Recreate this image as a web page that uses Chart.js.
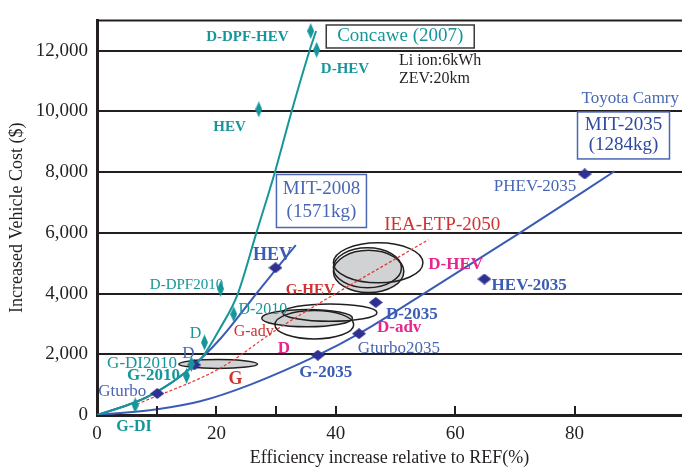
<!DOCTYPE html>
<html>
<head>
<meta charset="utf-8">
<script src="https://cdn.jsdelivr.net/npm/chart.js@4.4.1/dist/chart.umd.min.js"></script>
<style>
  html, body { margin: 0; padding: 0; background: #fff; }
</style>
</head>
<body>
<canvas id="chart" width="682" height="467"></canvas>
<script>
// Curves (efficiency %, cost $)
const concaweX = [0, 6.4, 10.1, 15.1, 17.8, 20.6, 23.5, 26.7, 29.8, 32.6, 35.6, 36.7];
const concaweY = [0, 420, 770, 1450, 1950, 2850, 3950, 6000, 8000, 10000, 12000, 12650];
const mit2008X = [0, 6.4, 10.1, 15.1, 20.7, 27.1, 33.3];
const mit2008Y = [0, 420, 770, 1450, 2520, 4100, 5600];
const mit2035X = [0, 10.1, 17.3, 25.7, 37.0, 43.9, 54.3, 71.1, 86.7];
const mit2035Y = [0, 190, 450, 1000, 1970, 2680, 3940, 6030, 8030];
const ieaX = [6.7, 20.7, 30.3, 55.5];
const ieaY = [355, 1550, 2840, 5775];

// Marked vehicles
const concawePtX = [35.8, 36.8, 27.1, 20.7, 22.9, 18.0, 15.8, 15.0, 6.4];
const concawePtY = [12650, 12030, 10070, 4160, 3320, 2390, 1680, 1290, 320];
const mitPtX = [10.1, 16.3, 29.9, 37.0, 43.9, 46.7, 64.9, 81.7];
const mitPtY = [710, 1650, 4850, 1970, 2680, 3710, 4480, 7940];

// IEA ranges: [centre x, centre y, half width (%), half height ($)]
const ieaShaded = [[20.3, 1680, 6.6, 145], [35.2, 3190, 7.6, 284], [45.5, 4730, 5.9, 694]];
const ieaOutline = [[39.0, 3370, 7.9, 284], [36.4, 2975, 6.6, 468], [47.1, 5015, 7.5, 661], [45.3, 4850, 5.7, 660]];

const xTicks = [0, 10, 20, 30, 40, 60, 80];
const yTicks = [0, 2000, 4000, 6000, 8000, 10000, 12000];

const FONT = '"Liberation Serif", "Times New Roman", serif';
const teal = '#16969a';
const blue = '#3b5cb6';
const blueText = '#4a67b3';
const navy = '#2e3192';
const red = '#d3312f';
const pink = '#e6268d';
const ink = '#231f20';

// text annotations, anchored in data units
const notes = [
    { t: 'D-DPF-HEV', x: 32.1, y: 12450, a: 'right', c: teal, f: 'bold 15px' },
    { t: 'D-HEV', x: 37.5, y: 11390, a: 'left', c: teal, f: 'bold 15px' },
    { t: 'HEV', x: 22.2, y: 9480, a: 'center', c: teal, f: 'bold 15px' },
    { t: 'D-DPF2010', x: 15.0, y: 4290, a: 'center', c: teal, f: '15px' },
    { t: 'D-2010', x: 23.7, y: 3480, a: 'left', c: teal, f: '16px' },
    { t: 'D', x: 16.5, y: 2680, a: 'center', c: teal, f: '16px' },
    { t: 'G-DI2010', x: 13.4, y: 1710, a: 'right', c: teal, f: '17px' },
    { t: 'G-2010', x: 13.9, y: 1290, a: 'right', c: teal, f: 'bold 17px' },
    { t: 'G-DI', x: 6.2, y: -390, a: 'center', c: teal, f: 'bold 16px' },
    { t: 'D', x: 15.3, y: 2030, a: 'center', c: blueText, f: '17px' },
    { t: 'Gturbo', x: 0.2, y: 770, a: 'left', c: blueText, f: '17px' },
    { t: 'HEV', x: 29.4, y: 5260, a: 'center', c: blue, f: 'bold 18px' },
    { t: 'HEV-2035', x: 66.1, y: 4260, a: 'left', c: blue, f: 'bold 17px' },
    { t: 'D-2035', x: 48.4, y: 3320, a: 'left', c: blue, f: 'bold 17px' },
    { t: 'Gturbo2035', x: 43.7, y: 2190, a: 'left', c: blueText, f: '17px' },
    { t: 'G-2035', x: 33.9, y: 1390, a: 'left', c: blue, f: 'bold 17px' },
    { t: 'PHEV-2035', x: 80.3, y: 7520, a: 'right', c: blueText, f: '17px' },
    { t: 'Toyota Camry', x: 97.5, y: 10420, a: 'right', c: blueText, f: '17px' },
    { t: 'IEA-ETP-2050', x: 48.1, y: 6260, a: 'left', c: red, f: '19px' },
    { t: 'G-HEV', x: 31.6, y: 4130, a: 'left', c: red, f: 'bold 15px' },
    { t: 'G-adv', x: 22.9, y: 2740, a: 'left', c: red, f: '16px' },
    { t: 'G', x: 23.2, y: 1160, a: 'center', c: red, f: 'bold 18px' },
    { t: 'D-HEV', x: 55.5, y: 4940, a: 'left', c: pink, f: 'bold 17px' },
    { t: 'D-adv', x: 46.9, y: 2870, a: 'left', c: pink, f: 'bold 17px' },
    { t: 'D', x: 31.3, y: 2190, a: 'center', c: pink, f: 'bold 17px' },
    { t: 'Li ion:6kWh', x: 50.6, y: 11680, a: 'left', c: ink, f: '16px' },
    { t: 'ZEV:20km', x: 50.6, y: 11065, a: 'left', c: ink, f: '16px' }
];

// boxed titles: centre in data units, box size in px
const boxes = [
    { lines: ['Concawe (2007)'], x: 50.8, y: 12470, w: 148, h: 23, gap: 0, c: teal, b: '#3a3a3a', f: '19px' },
    { lines: ['MIT-2008', '(1571kg)'], x: 37.6, y: 7050, w: 90, h: 53, gap: 23, c: blueText, b: blueText, f: '19px' },
    { lines: ['MIT-2035', '(1284kg)'], x: 88.2, y: 9210, w: 92, h: 47, gap: 20, c: '#2f4a9e', b: blueText, f: '19px' }
];

const toPts = (xs, ys) => xs.map((v, i) => ({ x: v, y: ys[i] }));

function diamond(w, h, color) {
    const cv = document.createElement('canvas');
    cv.width = w; cv.height = h;
    const c = cv.getContext('2d');
    c.fillStyle = color;
    c.beginPath();
    c.moveTo(w / 2, 0); c.lineTo(w, h / 2); c.lineTo(w / 2, h); c.lineTo(0, h / 2);
    c.closePath();
    c.fill();
    return cv;
}
const tealMark = diamond(7, 16, teal);
const navyMark = diamond(14, 11, navy);

function ellipsePath(ctx, x, y, e) {
    const cx = x.getPixelForValue(e[0]);
    const cy = y.getPixelForValue(e[1]);
    const rx = x.getPixelForValue(e[0] + e[2]) - cx;
    const ry = y.getPixelForValue(e[1] - e[3]) - cy;
    ctx.beginPath();
    ctx.ellipse(cx, cy, rx, ry, 0, 0, Math.PI * 2);
}

const overlay = {
    id: 'overlay',
    beforeDatasetsDraw(chart) {
        const { ctx, scales: { x, y } } = chart;
        ctx.save();
        ctx.lineWidth = 1.5;
        ctx.strokeStyle = ink;
        ieaShaded.forEach(e => {
            ellipsePath(ctx, x, y, e);
            ctx.fillStyle = '#d1d2d4';
            ctx.fill();
            ctx.stroke();
        });
        ieaOutline.forEach(e => {
            ellipsePath(ctx, x, y, e);
            ctx.stroke();
        });
        ctx.restore();
    },
    afterDraw(chart) {
        const { ctx, chartArea: area, scales: { x, y } } = chart;
        ctx.save();
        // top frame line
        ctx.strokeStyle = ink;
        ctx.lineWidth = 2;
        ctx.beginPath();
        ctx.moveTo(area.left, area.top);
        ctx.lineTo(area.right, area.top);
        ctx.stroke();
        // inward tick marks
        xTicks.slice(1).forEach(v => {
            const px = Math.round(x.getPixelForValue(v));
            ctx.beginPath();
            ctx.moveTo(px, area.bottom);
            ctx.lineTo(px, area.bottom - 9);
            ctx.stroke();
        });
        ctx.textBaseline = 'middle';
        notes.forEach(n => {
            ctx.font = n.f + ' ' + FONT;
            ctx.fillStyle = n.c;
            ctx.textAlign = n.a;
            ctx.fillText(n.t, x.getPixelForValue(n.x), y.getPixelForValue(n.y));
        });
        boxes.forEach(b => {
            const cx = x.getPixelForValue(b.x);
            const cy = y.getPixelForValue(b.y);
            ctx.fillStyle = '#fff';
            ctx.fillRect(cx - b.w / 2, cy - b.h / 2, b.w, b.h);
            ctx.lineWidth = 1.5;
            ctx.strokeStyle = b.b;
            ctx.strokeRect(cx - b.w / 2, cy - b.h / 2, b.w, b.h);
            ctx.font = b.f + ' ' + FONT;
            ctx.fillStyle = b.c;
            ctx.textAlign = 'center';
            const top = cy - (b.lines.length - 1) * b.gap / 2;
            b.lines.forEach((l, i) => ctx.fillText(l, cx, top + i * b.gap));
        });
        ctx.restore();
    }
};

new Chart(document.getElementById('chart'), {
    type: 'scatter',
    data: {
        datasets: [
            { data: toPts(concawePtX, concawePtY), pointStyle: tealMark, pointRadius: 8, order: 0 },
            { data: toPts(mitPtX, mitPtY), pointStyle: navyMark, pointRadius: 7, order: 1 },
            { data: toPts(concaweX, concaweY), showLine: true, borderColor: teal, borderWidth: 2, pointRadius: 0, cubicInterpolationMode: 'monotone', order: 2 },
            { data: toPts(mit2008X, mit2008Y), showLine: true, borderColor: blue, borderWidth: 2, pointRadius: 0, cubicInterpolationMode: 'monotone', order: 3 },
            { data: toPts(mit2035X, mit2035Y), showLine: true, borderColor: blue, borderWidth: 2, pointRadius: 0, cubicInterpolationMode: 'monotone', order: 4 },
            { data: toPts(ieaX, ieaY), showLine: true, borderColor: '#e03b36', borderWidth: 1.2, borderDash: [3, 2], pointRadius: 0, cubicInterpolationMode: 'monotone', order: 5 }
        ]
    },
    options: {
        responsive: false,
        animation: false,
        layout: { autoPadding: false, padding: { top: 11, right: 0, bottom: 0, left: 0 } },
        plugins: { legend: { display: false }, tooltip: { enabled: false } },
        scales: {
            x: {
                type: 'linear', min: 0, max: 98,
                afterFit: s => { s.height = 52; },
                afterBuildTicks: s => { s.ticks = xTicks.map(v => ({ value: v })); },
                grid: { display: false, drawTicks: false },
                border: { display: true, color: ink, width: 3 },
                ticks: {
                    autoSkip: false, maxRotation: 0, padding: 8, color: ink,
                    font: { family: FONT, size: 19 },
                    callback: v => (v % 20 === 0 ? String(v) : '')
                },
                title: {
                    display: true, text: 'Efficiency increase relative to REF(%)', color: ink,
                    font: { family: FONT, size: 18 }, padding: { top: 0, bottom: -2 }
                }
            },
            y: {
                min: 0, max: 13000,
                afterFit: s => { s.width = 97; },
                afterBuildTicks: s => { s.ticks = yTicks.map(v => ({ value: v })); },
                grid: { color: ink, lineWidth: 2, drawTicks: false },
                border: { display: true, color: ink, width: 3 },
                ticks: {
                    padding: 9, color: ink,
                    font: { family: FONT, size: 19 },
                    callback: v => v.toLocaleString('en-US')
                },
                title: {
                    display: true, text: 'Increased Vehicle Cost ($)', color: ink,
                    font: { family: FONT, size: 18 }, padding: { top: 6, bottom: 0 }
                }
            }
        }
    },
    plugins: [overlay]
});
</script>
</body>
</html>
